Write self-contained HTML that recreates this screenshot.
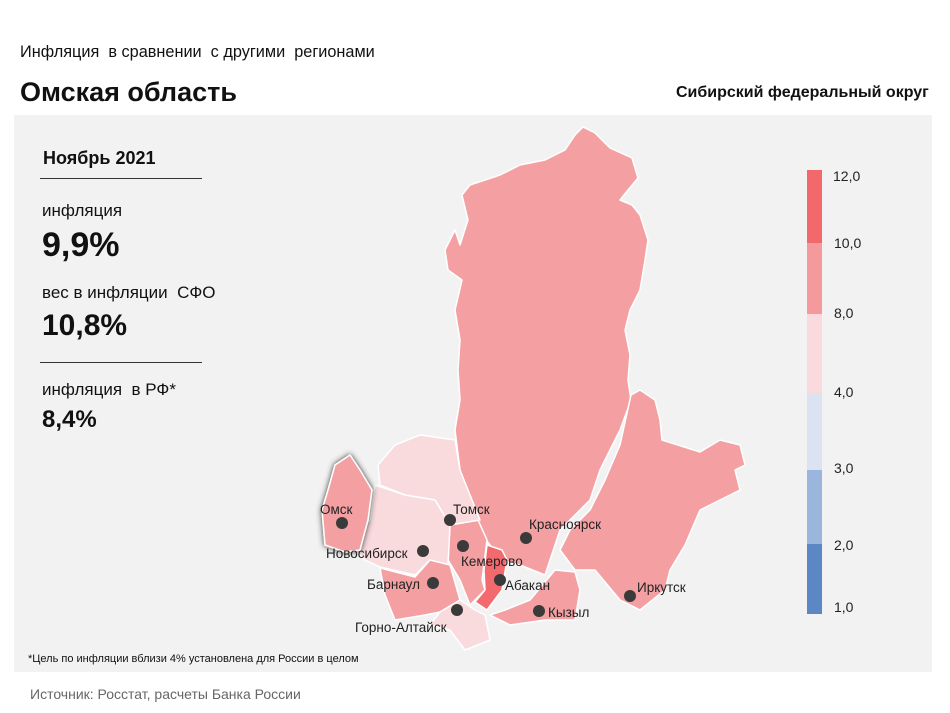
<!DOCTYPE html>
<html><head><meta charset="utf-8"><style>
body{margin:0;width:950px;height:713px;background:#fff;font-family:"Liberation Sans",sans-serif;position:relative;overflow:hidden}
.t{position:absolute;white-space:nowrap;color:#111}
</style></head><body>
<div class="t" style="left:20px;top:43px;font-size:16.3px;">Инфляция&nbsp; в сравнении&nbsp; с другими&nbsp; регионами</div>
<div class="t" style="left:20px;top:77px;font-size:27px;font-weight:bold;">Омская область</div>
<div class="t" style="left:676px;top:84px;font-size:16px;font-weight:bold;">Сибирский федеральный округ</div>
<div style="position:absolute;left:14px;top:115px;width:918px;height:557px;background:#f2f2f2"></div>
<div class="t" style="left:43px;top:148px;font-size:18px;font-weight:bold;">Ноябрь 2021</div>
<div style="position:absolute;left:40px;top:178px;width:162px;height:1px;background:#333"></div>
<div class="t" style="left:42px;top:201px;font-size:17px;">инфляция</div>
<div class="t" style="left:42px;top:226px;font-size:34px;font-weight:bold;">9,9%</div>
<div class="t" style="left:42px;top:283px;font-size:17px;">вес в инфляции&nbsp; СФО</div>
<div class="t" style="left:42px;top:309px;font-size:30px;font-weight:bold;">10,8%</div>
<div style="position:absolute;left:40px;top:362px;width:162px;height:1px;background:#333"></div>
<div class="t" style="left:42px;top:380px;font-size:17px;">инфляция&nbsp; в РФ*</div>
<div class="t" style="left:42px;top:406px;font-size:24px;font-weight:bold;">8,4%</div>
<div class="t" style="left:28px;top:653px;font-size:11px;">*Цель по инфляции вблизи 4% установлена для России в целом</div>
<div class="t" style="left:30px;top:686px;font-size:14px;color:#666">Источник: Росстат, расчеты Банка России</div>
<svg style="position:absolute;left:0;top:0" width="950" height="713">
<defs><filter id="sh" x="-30%" y="-30%" width="160%" height="160%"><feDropShadow dx="0" dy="0" stdDeviation="3" flood-color="#333"/></filter></defs>
<g stroke="#fff" stroke-width="1.5" stroke-linejoin="round">
<polygon fill="#f4a0a3" points="583,127 595,133 610,148 632,158 638,178 628,190 620,200 632,205 640,215 648,240 645,260 640,290 630,310 625,330 630,355 628,380 631,400 620,430 600,470 590,500 560,530 550,560 545,575 520,565 500,560 490,545 478,530 460,515 460,470 455,430 460,400 458,370 460,340 455,310 462,280 448,270 445,250 455,230 460,245 468,220 462,195 470,185 500,175 520,165 545,160 565,150 575,135"/>
<polygon fill="#f4a0a3" points="631,395 640,390 655,400 660,420 662,440 700,452 720,440 740,445 745,465 735,470 740,490 720,500 700,510 685,545 670,570 665,590 640,610 620,600 595,570 575,570 560,550 570,530 590,510 605,480 620,445"/>
<polygon fill="#f4a0a3" points="505,610 530,600 555,570 575,572 580,590 575,620 545,620 510,625 490,615"/>
<polygon fill="#f4a0a3" points="450,525 478,520 487,540 482,580 485,590 470,605 460,580 448,560"/>
<polygon fill="#f9dadd" points="378,465 395,445 420,435 455,440 460,470 480,520 450,525 435,500 405,495 380,485"/>
<polygon fill="#f9dadd" points="375,485 405,495 435,500 450,525 448,565 430,560 415,575 380,567 365,560 350,545 370,520"/>
<polygon fill="#f4a0a3" points="380,568 415,577 430,560 450,565 460,600 440,612 425,615 395,620 385,595"/>
<polygon fill="#f9dadd" points="440,612 460,600 475,610 485,615 490,640 465,650 450,630 430,625"/>
<polygon fill="#f26a6d" points="487,545 502,550 507,560 502,590 487,610 475,602 485,590 484,570"/>
<polygon fill="#f4a0a3" filter="url(#sh)" points="335,465 350,455 360,470 372,490 368,520 360,550 345,552 325,545 322,510 328,490"/>
</g>
<g fill="#3a3a3a">
<circle cx="342" cy="523" r="6"/><circle cx="423" cy="551" r="6"/><circle cx="450" cy="520" r="6"/>
<circle cx="463" cy="546" r="6"/><circle cx="526" cy="538" r="6"/><circle cx="500" cy="580" r="6"/>
<circle cx="433" cy="583" r="6"/><circle cx="457" cy="610" r="6"/><circle cx="539" cy="611" r="6"/><circle cx="630" cy="596" r="6"/>
</g>
<g font-family="Liberation Sans" font-size="13.5" fill="#222">
<text x="320" y="514">Омск</text><text x="326" y="558">Новосибирск</text><text x="453" y="514">Томск</text>
<text x="461" y="566">Кемерово</text><text x="529" y="529">Красноярск</text><text x="505" y="590">Абакан</text>
<text x="367" y="589">Барнаул</text><text x="355" y="632">Горно-Алтайск</text><text x="548" y="617">Кызыл</text><text x="637" y="592">Иркутск</text>
</g>
<rect x="807" y="170" width="15" height="73" fill="#f2686b"/>
<rect x="807" y="243" width="15" height="71" fill="#f4999c"/>
<rect x="807" y="314" width="15" height="79" fill="#fadadd"/>
<rect x="807" y="393" width="15" height="77" fill="#dbe3f2"/>
<rect x="807" y="470" width="15" height="74" fill="#9ab6dc"/>
<rect x="807" y="544" width="15" height="70" fill="#5b88c4"/>
<g font-family="Liberation Sans" font-size="14" fill="#222">
<text x="833" y="181">12,0</text><text x="834" y="248">10,0</text><text x="834" y="318">8,0</text>
<text x="834" y="397">4,0</text><text x="834" y="473">3,0</text><text x="834" y="550">2,0</text><text x="834" y="612">1,0</text>
</g>
</svg>
</body></html>
